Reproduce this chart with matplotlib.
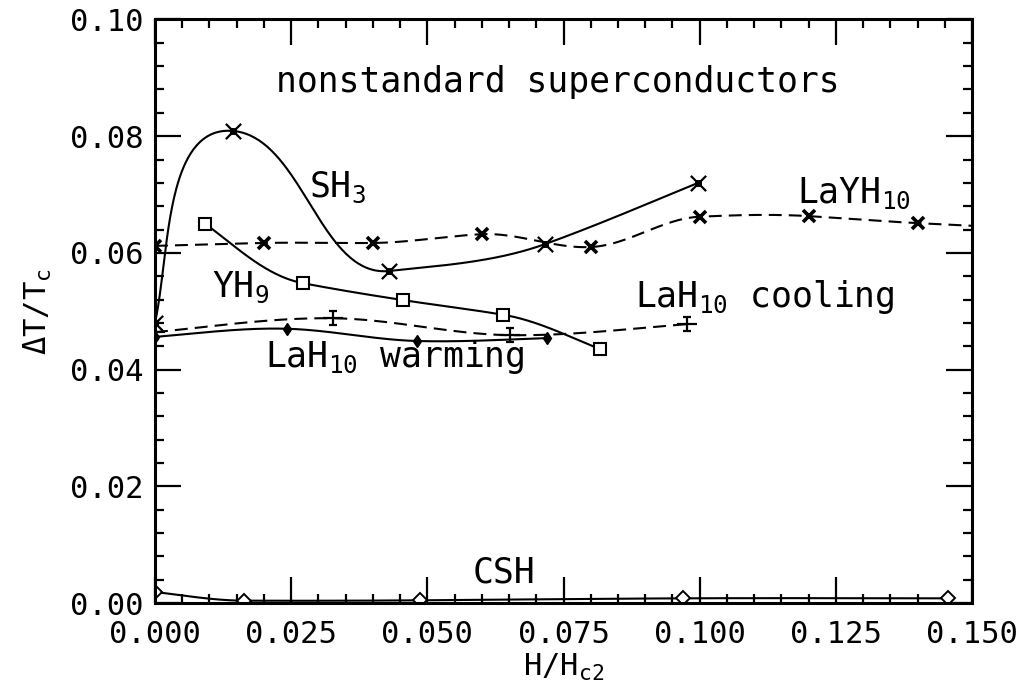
"""Nonstandard superconductors: transition width vs reduced field."""

import numpy as np
import matplotlib

matplotlib.use("Agg")
import matplotlib.pyplot as plt
from matplotlib.path import Path

# data
sh3_h = [0.0, 0.0143, 0.043, 0.0716, 0.0997]
sh3_dt = [0.048, 0.0809, 0.0569, 0.0615, 0.072]

yh9_h = [0.0092, 0.0272, 0.0456, 0.0639, 0.0817]
yh9_dt = [0.0650, 0.0548, 0.0519, 0.0494, 0.0435]

layh10_h = [0.0, 0.02, 0.04, 0.06, 0.08, 0.10, 0.12, 0.14, 0.16]
layh10_dt = [0.0612, 0.0617, 0.0617, 0.0632, 0.0610, 0.0662, 0.0663, 0.0651, 0.0642]

cool_h = [0.0, 0.0327, 0.0652, 0.0977]
cool_dt = [0.0464, 0.0488, 0.0459, 0.0478]

warm_h = [0.0, 0.0242, 0.0481, 0.072]
warm_dt = [0.0456, 0.0470, 0.0449, 0.0454]

csh_h = [0.0, 0.0164, 0.0486, 0.0969, 0.1456]
csh_dt = [0.0019, 0.0004, 0.00046, 0.0008, 0.0008]

XMAX, YMAX = 0.15, 0.10


def unit(v):
    return v / np.hypot(v[0], v[1])


def smooth(ax, x, y, n=80):
    """Parametric Hermite curve through the points in screen space.
    Interior tangents Akima-style, relaxed free ends."""
    fig = ax.figure
    bb = ax.get_position()
    sx = bb.width * fig.get_figwidth() * fig.dpi / XMAX
    sy = bb.height * fig.get_figheight() * fig.dpi / YMAX
    P = np.column_stack([np.asarray(x) * sx, np.asarray(y) * sy])
    k = len(P)
    d = np.diff(P, axis=0)
    h = np.hypot(d[:, 0], d[:, 1])
    m = d[:, 1] / d[:, 0]
    mm = np.concatenate([[2 * m[0] - m[1]], m, [2 * m[-1] - m[-2]]])
    T = np.zeros((k, 2))
    for i in range(1, k - 1):
        w1 = abs(mm[i + 2] - mm[i + 1])
        w2 = abs(mm[i] - mm[i - 1])
        if w1 + w2 < 1e-9:
            s = 0.5 * (mm[i] + mm[i + 1])
        else:
            s = (w1 * mm[i] + w2 * mm[i + 1]) / (w1 + w2)
        T[i] = unit(np.array([1.0, s]))
    c0, c1 = d[0] / h[0], d[-1] / h[-1]
    T[0] = unit(c0 + unit(1.5 * c0 - 0.5 * T[1]))
    T[-1] = unit(c1 + unit(1.5 * c1 - 0.5 * T[-2]))
    u = np.linspace(0, 1, n)[:, None]
    h00 = 2 * u**3 - 3 * u**2 + 1
    h10 = u**3 - 2 * u**2 + u
    h01 = -2 * u**3 + 3 * u**2
    h11 = u**3 - u**2
    segs = [h00 * P[i] + h10 * h[i] * T[i] + h01 * P[i + 1] + h11 * h[i] * T[i + 1]
            for i in range(k - 1)]
    c = np.vstack(segs)
    return c[:, 0] / sx, c[:, 1] / sy


def line_marker(segs):
    verts, codes = [], []
    for (a, b) in segs:
        verts += [a, b]
        codes += [Path.MOVETO, Path.LINETO]
    return Path(verts, codes)


xbox = line_marker([((-1, -1), (1, 1)), ((-1, 1), (1, -1)),
                    ((-0.3, -0.3), (0.3, -0.3)), ((0.3, -0.3), (0.3, 0.3)),
                    ((0.3, 0.3), (-0.3, 0.3)), ((-0.3, 0.3), (-0.3, -0.3))])
ibeam = line_marker([((0, -0.7), (0, 0.7)), ((-1, 0), (1, 0)),
                     ((-0.4, 0.7), (0.4, 0.7)), ((-0.4, -0.7), (0.4, -0.7))])

plt.rcParams["font.family"] = ["DejaVu Sans Mono", "DejaVu Sans"]
plt.rcParams["mathtext.fontset"] = "custom"
plt.rcParams["mathtext.rm"] = "DejaVu Sans Mono"
plt.rcParams["mathtext.it"] = "DejaVu Sans Mono"
plt.rcParams["mathtext.default"] = "rm"

fig = plt.figure(figsize=(10.19, 6.98), dpi=100)
ax = fig.add_axes([0.1521, 0.1361, 0.8018, 0.8360])

lw = 1.5
dash = (6.2, 3.4)

ax.plot(*smooth(ax, sh3_h, sh3_dt), color="k", lw=lw)
ax.plot(sh3_h, sh3_dt, ls="none", marker=xbox, ms=11, mec="k", mew=1.6)

ax.plot(*smooth(ax, yh9_h, yh9_dt), color="k", lw=lw)
ax.plot(yh9_h, yh9_dt, ls="none", marker="s", ms=8.5, mfc="white", mec="k", mew=1.5)

ax.plot(*smooth(ax, layh10_h, layh10_dt), color="k", lw=lw, dashes=dash)
ax.plot(layh10_h, layh10_dt, ls="none", marker="x", ms=8, mec="k", mew=2.6)

ax.plot(*smooth(ax, cool_h, cool_dt), color="k", lw=lw, dashes=dash)
ax.plot(cool_h, cool_dt, ls="none", marker=ibeam, ms=15, mec="k", mew=1.6)

ax.plot(*smooth(ax, warm_h, warm_dt), color="k", lw=lw)
ax.plot(warm_h, warm_dt, ls="none", marker="d", ms=6, mfc="k", mec="k")

ax.plot(*smooth(ax, csh_h, csh_dt), color="k", lw=lw)
ax.plot(csh_h, csh_dt, ls="none", marker="D", ms=7, mfc="white", mec="k", mew=1.4)

ax.set_xlim(0, XMAX)
ax.set_ylim(0, YMAX)
xt = np.arange(0, XMAX + 1e-4, 0.025)
yt = np.arange(0, YMAX + 1e-4, 0.02)
ax.set_xticks(xt)
ax.set_xticks(np.arange(0, XMAX + 1e-4, 0.005), minor=True)
ax.set_yticks(yt)
ax.set_yticks(np.arange(0, YMAX + 1e-4, 0.004), minor=True)
ax.set_xticklabels([f"{v:.3f}" for v in xt])
ax.set_yticklabels([f"{v:.2f}" for v in yt])
ax.tick_params(which="both", direction="in", top=True, right=True, width=1.6)
ax.tick_params(which="major", length=19, labelsize=22)
ax.tick_params(which="minor", length=6.5)
ax.tick_params(axis="x", pad=12)
ax.tick_params(axis="y", pad=8)
for sp in ax.spines.values():
    sp.set_linewidth(2.2)

ax.set_xlabel("H/H$_{c2}$", fontsize=22, labelpad=2)
ax.set_ylabel("ΔT/T$_c$", fontsize=22, labelpad=12)

txt = dict(fontsize=25, color="k")
ax.text(0.0222, 0.0876, "nonstandard superconductors", **txt)
ax.text(0.0282, 0.0696, "SH$_3$", **txt)
ax.text(0.0105, 0.0524, "YH$_9$", **txt)
ax.text(0.0202, 0.0404, "LaH$_{10}$ warming", **txt)
ax.text(0.0881, 0.0507, "LaH$_{10}$ cooling", **txt)
ax.text(0.1178, 0.0686, "LaYH$_{10}$", **txt)
ax.text(0.0584, 0.0035, "CSH", **txt)

fig.savefig("out.png", dpi=100)
